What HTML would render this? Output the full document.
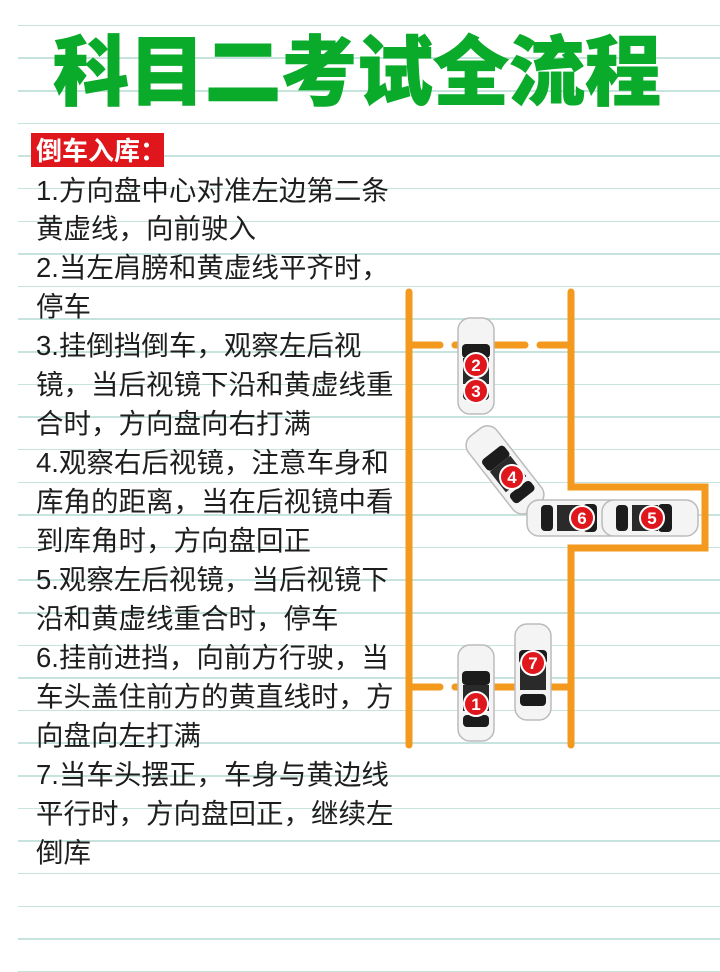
<!DOCTYPE html>
<html><head><meta charset="utf-8"><style>
html,body{margin:0;padding:0}
body{width:720px;height:960px;position:relative;overflow:hidden;background:#fff;font-family:"Liberation Sans","Noto Sans CJK SC",sans-serif}
.ln{position:absolute;left:18px;right:0;height:1.5px;background:#c6e3de}
.t{position:absolute;left:36px;font-size:27.5px;color:#1e1e1e;line-height:39px;white-space:nowrap}
</style></head><body>
<div id="lines"></div>
<script>
(function(){var h='';for(var k=0;k<30;k++){var y=24.8+32.62*k;h+='<div class="ln" style="top:'+y.toFixed(1)+'px"></div>';}document.getElementById('lines').innerHTML=h;})();
</script>
<div style="position:absolute;left:0;width:714px;top:20px;text-align:center;font-size:76px;font-weight:900;color:#0aaa2a;line-height:92px;font-family:'Noto Sans CJK SC',sans-serif;-webkit-text-stroke:1px #0aaa2a">科目二考试全流程</div>
<div style="position:absolute;left:31px;top:133px;width:133px;height:34px;background:#e0161d"></div>
<div style="position:absolute;left:36px;top:133px;font-size:26px;font-weight:bold;color:#fff;line-height:34px;font-family:'Noto Sans CJK SC',sans-serif">倒车入库：</div>
<div class="t" style="top:171px">1.方向盘中心对准左边第二条</div>
<div class="t" style="top:209px">黄虚线，向前驶入</div>
<div class="t" style="top:248px">2.当左肩膀和黄虚线平齐时，</div>
<div class="t" style="top:287px">停车</div>
<div class="t" style="top:326px">3.挂倒挡倒车，观察左后视</div>
<div class="t" style="top:365px">镜，当后视镜下沿和黄虚线重</div>
<div class="t" style="top:404px">合时，方向盘向右打满</div>
<div class="t" style="top:443px">4.观察右后视镜，注意车身和</div>
<div class="t" style="top:482px">库角的距离，当在后视镜中看</div>
<div class="t" style="top:521px">到库角时，方向盘回正</div>
<div class="t" style="top:560px">5.观察左后视镜，当后视镜下</div>
<div class="t" style="top:599px">沿和黄虚线重合时，停车</div>
<div class="t" style="top:638px">6.挂前进挡，向前方行驶，当</div>
<div class="t" style="top:677px">车头盖住前方的黄直线时，方</div>
<div class="t" style="top:716px">向盘向左打满</div>
<div class="t" style="top:755px">7.当车头摆正，车身与黄边线</div>
<div class="t" style="top:794px">平行时，方向盘回正，继续左</div>
<div class="t" style="top:833px">倒库</div>
<svg style="position:absolute;left:0;top:0" width="720" height="960" viewBox="0 0 720 960">
<defs>
<g id="car">
<rect x="-18" y="-48" width="36" height="96" rx="12" fill="#f4f4f4" stroke="#bbb" stroke-width="1.5"/>
<rect x="-14" y="-22" width="28" height="14" rx="4" fill="#1c1c1c"/>
<rect x="-13" y="-8" width="26" height="26" fill="#2a2a2a"/>
<rect x="-13" y="22" width="26" height="12" rx="4" fill="#1c1c1c"/>
</g>
</defs>
<g stroke="#f39a1e" stroke-width="7" stroke-linecap="round" fill="none">
<line x1="409" y1="292" x2="409" y2="745"/>
<path d="M571 292 V487 H705 V548 H571 V745"/>
<path d="M409 345 H440 M455 345 H525 M540 345 H571" />
<path d="M409 687 H440 M455 687 H571"/>
</g>
<use href="#car" transform="translate(476,366)"/>
<use href="#car" transform="translate(505,470) rotate(-38)"/>
<use href="#car" transform="translate(575,518) rotate(90)"/>
<use href="#car" transform="translate(650,518) rotate(90)"/>
<use href="#car" transform="translate(476,693)"/>
<use href="#car" transform="translate(533,672)"/>
<g fill="#e0161d" stroke="#fff" stroke-width="2">
<circle cx="476" cy="365" r="12"/><circle cx="476" cy="391" r="12"/>
<circle cx="512" cy="477" r="12"/><circle cx="582" cy="518" r="12"/>
<circle cx="652" cy="518" r="12"/><circle cx="476" cy="704" r="12"/>
<circle cx="533" cy="663" r="12"/>
</g>
<g fill="#fff" font-size="17" font-weight="bold" text-anchor="middle" font-family="Liberation Sans,sans-serif">
<text x="476" y="371">2</text><text x="476" y="397">3</text>
<text x="512" y="483">4</text><text x="582" y="524">6</text>
<text x="652" y="524">5</text><text x="476" y="710">1</text>
<text x="533" y="669">7</text>
</g>
</svg>
</body></html>
